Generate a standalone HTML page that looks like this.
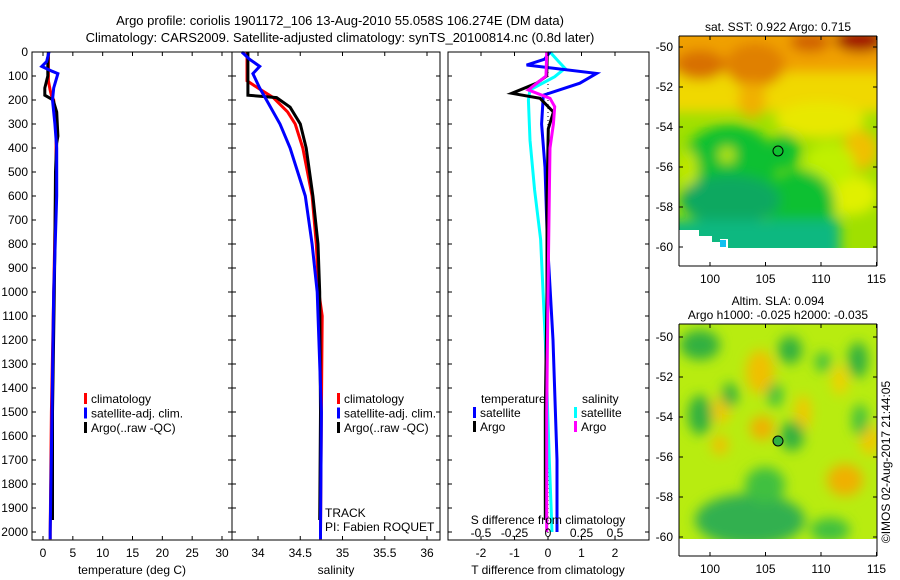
<!DOCTYPE html>
<html><head><meta charset="utf-8">
<style>
body{margin:0;background:#fff;}
svg{display:block;font-family:"Liberation Sans",sans-serif;font-size:12px;}
</style></head>
<body>
<svg id="fig" width="900" height="580" viewBox="0 0 900 580">
<defs>
<filter id="bl" x="-50%" y="-50%" width="200%" height="200%"><feGaussianBlur stdDeviation="6"/></filter>
<clipPath id="c1"><rect x="679" y="36" width="198" height="212"/></clipPath>
<clipPath id="c2"><rect x="679" y="324" width="198" height="215"/></clipPath>
<clipPath id="p1"><rect x="32" y="36" width="200" height="504"/></clipPath>
<clipPath id="p2"><rect x="232" y="36" width="208" height="504"/></clipPath>
<clipPath id="p3"><rect x="448" y="36" width="201" height="504"/></clipPath>
</defs>
<g>
<text x="340" y="25" text-anchor="middle" font-size="13">Argo profile: coriolis 1901172_106 13-Aug-2010 55.058S 106.274E (DM data)</text>
<text x="340" y="42" text-anchor="middle" font-size="13">Climatology: CARS2009. Satellite-adjusted climatology: synTS_20100814.nc (0.8d later)</text>
</g>
<g id="axes"></g>
<g id="marks"></g>

<!-- Map 1 SST -->
<g>
<g clip-path="url(#c1)">
<rect x="679" y="36" width="198" height="212" fill="#a0e000"/>
<g filter="url(#bl)">
<rect x="660" y="20" width="240" height="55" fill="#f0a000"/>
<rect x="660" y="72" width="240" height="40" fill="#f0d800"/>
<ellipse cx="700" cy="65" rx="25" ry="15" fill="#d87000"/>
<ellipse cx="755" cy="65" rx="30" ry="22" fill="#e08000"/>
<ellipse cx="752" cy="100" rx="14" ry="18" fill="#f0b000"/>
<ellipse cx="860" cy="40" rx="25" ry="12" fill="#a01000"/>
<ellipse cx="810" cy="42" rx="20" ry="10" fill="#d06000"/>
<ellipse cx="820" cy="120" rx="45" ry="18" fill="#e8e800"/>
<ellipse cx="860" cy="150" rx="18" ry="20" fill="#f0c000"/>
<ellipse cx="850" cy="195" rx="28" ry="20" fill="#e0f000"/>
<ellipse cx="830" cy="165" rx="25" ry="22" fill="#c0f000"/>
<ellipse cx="730" cy="165" rx="48" ry="40" fill="#10c030"/>
<ellipse cx="800" cy="205" rx="35" ry="35" fill="#10c030"/>
<ellipse cx="785" cy="152" rx="15" ry="18" fill="#10c030"/>
<ellipse cx="688" cy="170" rx="10" ry="20" fill="#c0e800"/>
<ellipse cx="727" cy="155" rx="8" ry="8" fill="#c0e800"/>
<ellipse cx="730" cy="200" rx="50" ry="25" fill="#10a860"/>
<rect x="660" y="220" width="180" height="40" fill="#10b880"/>
</g>
</g>
<rect x="679" y="230" width="20" height="30" fill="#fff"/>
<rect x="699" y="236" width="13" height="24" fill="#fff"/>
<rect x="712" y="242" width="8" height="18" fill="#fff"/>
<rect x="720" y="239" width="8" height="10" fill="#fff"/>
<rect x="720" y="240" width="6" height="7" fill="#10c0f0"/>
<rect x="679" y="248" width="198" height="18" fill="#fff"/>
<circle cx="778" cy="151" r="5" fill="none" stroke="#000"/>
</g>

<!-- Map 2 SLA -->
<g>
<g clip-path="url(#c2)">
<rect x="679" y="324" width="198" height="215" fill="#b8ec10"/>
<g filter="url(#bl)">
<ellipse cx="760" cy="372" rx="14" ry="22" fill="#f0c000"/>
<ellipse cx="762" cy="428" rx="12" ry="12" fill="#f0b000"/>
<ellipse cx="721" cy="410" rx="9" ry="14" fill="#f0c800"/>
<ellipse cx="720" cy="445" rx="8" ry="10" fill="#f0c000"/>
<ellipse cx="803" cy="413" rx="8" ry="18" fill="#f0c800"/>
<ellipse cx="840" cy="380" rx="8" ry="15" fill="#f0d000"/>
<ellipse cx="845" cy="480" rx="18" ry="16" fill="#f0b000"/>
<ellipse cx="870" cy="440" rx="10" ry="15" fill="#f0c800"/>
<ellipse cx="700" cy="345" rx="20" ry="15" fill="#30b040"/>
<ellipse cx="790" cy="350" rx="12" ry="14" fill="#30b040"/>
<ellipse cx="858" cy="360" rx="10" ry="18" fill="#30b040"/>
<ellipse cx="700" cy="415" rx="12" ry="20" fill="#30b040"/>
<ellipse cx="730" cy="395" rx="8" ry="12" fill="#30b040"/>
<ellipse cx="792" cy="436" rx="12" ry="15" fill="#30b040"/>
<ellipse cx="775" cy="395" rx="8" ry="12" fill="#40c040"/>
<ellipse cx="823" cy="362" rx="8" ry="10" fill="#40c040"/>
<ellipse cx="750" cy="520" rx="55" ry="26" fill="#30b050"/>
<ellipse cx="765" cy="485" rx="20" ry="18" fill="#40c040"/>
<ellipse cx="860" cy="420" rx="8" ry="16" fill="#40c040"/>
<ellipse cx="830" cy="530" rx="20" ry="12" fill="#40c040"/>
</g>
</g>
<circle cx="778" cy="441" r="5" fill="#30b040" stroke="#000"/>
</g>
<text transform="translate(890,462) rotate(-90)" text-anchor="middle" font-size="12">©IMOS 02-Aug-2017 21:44:05</text>
</svg>
<script>
// ---- data ----
const depthTicks=[0,100,200,300,400,500,600,700,800,900,1000,1100,1200,1300,1400,1500,1600,1700,1800,1900,2000];
const tTicks=[0,5,10,15,20,25,30];
const sTicks=[34,34.5,35,35.5,36];
const tdTicks=[-2,-1,0,1,2];
const sdTicks=[-0.5,-0.25,0,0.25,0.5];
const sdTickLabels=["-0.5","-0.25","0","0.25","0.5"];
const latTicks=[-50,-52,-54,-56,-58,-60];
const lonTicks=[100,105,110,115];

const tClimDepth=[0,60,120,160,180,200,300,500,1000,1500,2000,2030];
const tClim=[0.9,0.9,0.9,1.2,1.4,1.8,2.2,2.2,1.8,1.4,1.2,1.2];
const tSatDepth=[0,40,60,80,90,150,200,300,400,600,1000,1500,2000,2030];
const tSat=[1.0,0.6,-0.2,1.5,2.5,1.8,1.6,2.0,2.3,2.3,1.8,1.5,1.2,1.2];
const tArgoDepth=[0,50,100,130,150,180,200,250,350,380,500,800,1000,1500,1950];
const tArgo=[0.9,0.8,0.8,0.5,0.3,0.3,1.7,2.3,2.5,2.3,2.1,2.0,1.9,1.6,1.6];

const sClimDepth=[0,120,150,190,250,300,400,600,800,1000,1100,1500,2000,2030];
const sClim=[33.87,33.87,34.0,34.18,34.35,34.44,34.53,34.64,34.69,34.72,34.76,34.75,34.74,34.74];
const sSatDepth=[0,30,60,90,150,200,300,400,500,600,800,1000,1500,2000,2030];
const sSat=[33.81,33.9,34.02,33.94,34.02,34.1,34.26,34.38,34.47,34.56,34.64,34.7,34.75,34.74,34.74];
const sArgoDepth=[0,180,190,230,300,400,600,800,1000,1500,1950];
const sArgo=[33.88,33.88,34.22,34.38,34.5,34.57,34.65,34.71,34.73,34.74,34.73];

const dTSatDepth=[0,30,54,89,130,180,300,480,780,1200,1700,2000];
const dTSat=[0.06,-0.1,-0.64,1.45,0.95,-0.14,-0.19,-0.09,-0.02,0.15,0.27,0.27];
const dTArgoDepth=[0,100,130,172,193,250,320,600,1000,1500,1950];
const dTArgo=[-0.02,-0.04,-0.34,-1.08,-0.24,0.16,0.01,-0.03,-0.03,-0.08,-0.08];
const dSSatDepth=[0,40,68,103,158,200,367,575,780,1200,1700,2000];
const dSSat=[0.015,0.08,0.127,0.05,-0.134,-0.146,-0.134,-0.1,-0.055,-0.02,0.01,0.03];
const dSArgoDepth=[0,100,158,193,228,300,400,600,1000,1500,2000];
const dSArgo=[-0.01,-0.015,-0.147,0.015,0.05,0.04,0.015,0.01,0,-0.01,-0.01];

// ---- scales ----
const yD=d=>52+d*0.24;
const xT=t=>43+t*5.967;
const xS=s=>258+(s-34)*84.5;
const xTd=t=>548+t*33.5;
const xSd=s=>548+s*134;
const yLat1=l=>47+(-50-l)*20;
const yLat2=l=>337+(-50-l)*20;
const xLon=l=>710+(l-100)*11.1;

const NS="http://www.w3.org/2000/svg";
const axes=document.getElementById('axes');
const marks=document.getElementById('marks');
function mk(tag,attrs,parent,txt){const e=document.createElementNS(NS,tag);for(const k in attrs)e.setAttribute(k,attrs[k]);if(txt!==undefined)e.textContent=txt;parent.appendChild(e);return e;}

const frames=[[32,232],[232,440],[448,649]];
frames.forEach((f,i)=>{
  const r=mk('rect',{x:f[0],y:52,width:f[1]-f[0],height:488,fill:'none',stroke:'#000','stroke-width':1},axes);
  
  
});
depthTicks.forEach(d=>{
  const t=mk('text',{x:28,y:yD(d)+4,'text-anchor':'end'},axes,String(d));
  
  
  frames.forEach(f=>{mk('line',{x1:f[0],x2:f[0]+4,y1:yD(d),y2:yD(d),stroke:'#000'},axes);mk('line',{x1:f[1]-4,x2:f[1],y1:yD(d),y2:yD(d),stroke:'#000'},axes);});
});
function xticks(vals,fx,labels,ylab,top){
  vals.forEach((v,i)=>{
    const x=fx(v);
    mk('line',{x1:x,x2:x,y1:540,y2:536,stroke:'#000'},axes);
    if(top)mk('line',{x1:x,x2:x,y1:52,y2:56,stroke:'#000'},axes);
    const t=mk('text',{x:x,y:ylab,'text-anchor':'middle'},axes,labels?labels[i]:String(v));
    
    
  });
}
xticks(tTicks,xT,null,557,true);
xticks(sTicks,xS,null,557,true);
xticks(tdTicks,xTd,null,557,true);
sdTicks.forEach((v,i)=>{
  const t=mk('text',{x:xSd(v),y:537,'text-anchor':'middle'},axes,sdTickLabels[i]);
  
  
});
[[132,'temperature (deg C)','x-axis-title-temperature'],[336,'salinity','x-axis-title-salinity'],[548,'T difference from climatology','x-axis-title-t-diff']].forEach(a=>{
  const t=mk('text',{x:a[0],y:574,'text-anchor':'middle'},axes,a[1]);
  
  
});
let st=mk('text',{x:548,y:524,'text-anchor':'middle'},axes,'S difference from climatology');


st=mk('text',{x:325,y:517},axes,'TRACK');


st=mk('text',{x:325,y:531},axes,'PI: Fabien ROQUET');



function line(ds,vs,fx,color,name,clip){
  const pts=ds.map((d,i)=>fx(vs[i]).toFixed(1)+','+yD(d).toFixed(1)).join(' ');
  const p=mk('polyline',{points:pts,fill:'none',stroke:color,'stroke-width':3,'stroke-linejoin':'miter','clip-path':'url(#'+clip+')'},marks);
  
  
}
line(tClimDepth,tClim,xT,'#f00','temp-climatology-line','p1');
line(tArgoDepth,tArgo,xT,'#000','temp-argo-line','p1');
line(tSatDepth,tSat,xT,'#00f','temp-satellite-line','p1');
line(sClimDepth,sClim,xS,'#f00','sal-climatology-line','p2');
line(sArgoDepth,sArgo,xS,'#000','sal-argo-line','p2');
line(sSatDepth,sSat,xS,'#00f','sal-satellite-line','p2');
const zl=mk('line',{x1:xTd(0),x2:xTd(0),y1:52,y2:540,stroke:'#000','stroke-dasharray':'1,3'},marks);


line(dSSatDepth,dSSat,xSd,'#0ff','s-diff-satellite-line','p3');
line(dTSatDepth,dTSat,xTd,'#00f','t-diff-satellite-line','p3');
line(dTArgoDepth,dTArgo,xTd,'#000','t-diff-argo-line','p3');
line(dSArgoDepth,dSArgo,xSd,'#f0f','s-diff-argo-line','p3');

function legend(x,y,color,label){
  const g=mk('g',{},marks);
  
  
  mk('rect',{x:x,y:y-10,width:3,height:11,fill:color},g);
  mk('text',{x:x+7,y:y},g,label);
}
[[84,'#f00','climatology'],[84,'#00f','satellite-adj. clim.'],[84,'#000','Argo(..raw -QC)']].forEach((l,i)=>legend(l[0],403+i*14.5,l[1],l[2]));
[[337,'#f00','climatology'],[337,'#00f','satellite-adj. clim.'],[337,'#000','Argo(..raw -QC)']].forEach((l,i)=>legend(l[0],403+i*14.5,l[1],l[2]));
st=mk('text',{x:481,y:403},marks,'temperature');


st=mk('text',{x:582,y:403},marks,'salinity');


legend(473,417,'#00f','satellite');legend(473,431,'#000','Argo');
legend(574,417,'#0ff','satellite');legend(574,431,'#f0f','Argo');

function mapAxes(top,dataBottom,axBottom,fy,title){
  const g=mk('g',{},axes);
  
  
  mk('line',{x1:679,x2:679,y1:top,y2:axBottom,stroke:'#000'},g);
  mk('line',{x1:877,x2:877,y1:top,y2:axBottom,stroke:'#000'},g);
  mk('line',{x1:679,x2:877,y1:top,y2:top,stroke:'#000'},g);
  mk('line',{x1:679,x2:877,y1:axBottom,y2:axBottom,stroke:'#000'},g);
  latTicks.forEach(l=>{const y=fy(l);mk('line',{x1:679,x2:683,y1:y,y2:y,stroke:'#000'},g);mk('line',{x1:873,x2:877,y1:y,y2:y,stroke:'#000'},g);
    const t=mk('text',{x:673,y:y+4,'text-anchor':'end'},g,String(l));
    
    });
  lonTicks.forEach(l=>{const x=xLon(l);mk('line',{x1:x,x2:x,y1:axBottom,y2:axBottom-4,stroke:'#000'},g);mk('line',{x1:x,x2:x,y1:top,y2:top+4,stroke:'#000'},g);
    const t=mk('text',{x:x,y:axBottom+17,'text-anchor':'middle'},g,String(l));
    
    });
  title.forEach((s,i)=>{const t=mk('text',{x:778,y:top-14*(title.length-i)+9,'text-anchor':'middle'},g,s);
    
    });
}
mapAxes(36,248,266,yLat1,['sat. SST: 0.922 Argo: 0.715']);
mapAxes(324,539,556,yLat2,['Altim. SLA: 0.094','Argo h1000: -0.025 h2000: -0.035']);
const fig=document.getElementById('fig');
fig.appendChild(axes);
</script>
</body></html>
